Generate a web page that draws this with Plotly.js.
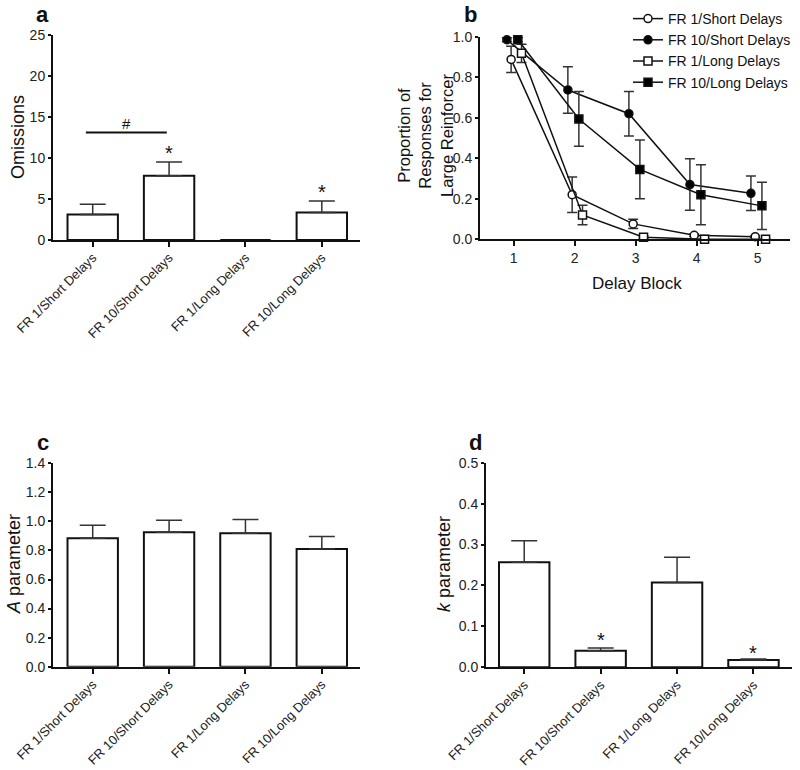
<!DOCTYPE html>
<html>
<head>
<meta charset="utf-8">
<script src="https://cdn.plot.ly/plotly-3.0.1.min.js"></script>
<style>html,body{margin:0;padding:0;background:#fff;}#chart{width:800px;height:770px;}</style>
</head>
<body>
<div id="chart"></div>
<script>
// ---------- data ----------
const groups = ["FR 1/Short Delays", "FR 10/Short Delays", "FR 1/Long Delays", "FR 10/Long Delays"];

// panel a: omissions (mean, SEM)
const omissions    = [3.1, 7.85, 0, 3.35];
const omissionsErr = [1.25, 1.65, null, 1.4];

// panel b: proportion of responses for large reinforcer
const delayBlocks   = [1, 2, 3, 4, 5];
const fr1Short      = [0.888, 0.22, 0.076, 0.02, 0.013];
const fr1ShortErr   = [0.065, 0.088, 0.023, 0.006, 0.004];
const fr10Short     = [0.985, 0.737, 0.62, 0.27, 0.227];
const fr10ShortErr  = [0.01, 0.115, 0.11, 0.127, 0.085];
const fr1Long       = [0.918, 0.12, 0.01, 0.0, 0.0];
const fr1LongErr    = [0.045, 0.048, 0.006, 0.002, 0.002];
const fr10Long      = [0.985, 0.594, 0.345, 0.22, 0.165];
const fr10LongErr   = [0.01, 0.135, 0.145, 0.148, 0.117];

// panel c: A parameter
const aParam    = [0.884, 0.925, 0.918, 0.81];
const aParamErr = [0.089, 0.083, 0.096, 0.087];

// panel d: k parameter
const kParam    = [0.2565, 0.0407, 0.207, 0.018];
const kParamErr = [0.0525, 0.0063, 0.062, 0.002];

// significance markers
const sigA = [{i: 1, y: 10.6, t: "*"}, {i: 3, y: 5.8, t: "*"}];
const sigD = [{i: 1, y: 0.066, t: "*"}, {i: 3, y: 0.034, t: "*"}];

// ---------- styles ----------
const FONT = "Arial, 'Liberation Sans', sans-serif";
const W = 800, H = 770;
const px = v => v / W;
const py = v => 1 - v / H;

function barTrace(vals, errs, xa, ya) {
  const up = errs.map(e => (e === null ? NaN : e));
  const dn = errs.map(e => (e === null ? NaN : 0));
  return {
    type: "bar", x: groups.map((g, i) => i), y: vals,
    xaxis: xa, yaxis: ya, width: 0.66, showlegend: false,
    marker: {color: "#ffffff", line: {color: "#111", width: 2}},
    error_y: {type: "data", symmetric: false, array: up, arrayminus: dn,
              color: "#333", thickness: 1.5, width: 13},
    hoverinfo: "y"
  };
}

const seriesB = [
  {name: "FR 1/Short Delays",  y: fr1Short,  e: fr1ShortErr,  off: -0.04, sym: "circle", fill: "#ffffff"},
  {name: "FR 10/Short Delays", y: fr10Short, e: fr10ShortErr, off: -0.11, sym: "circle", fill: "#000000"},
  {name: "FR 1/Long Delays",   y: fr1Long,   e: fr1LongErr,   off: 0.13,  sym: "square", fill: "#ffffff"},
  {name: "FR 10/Long Delays",  y: fr10Long,  e: fr10LongErr,  off: 0.07,  sym: "square", fill: "#000000"}
];

const traces = [];
traces.push(barTrace(omissions, omissionsErr, "x", "y"));
seriesB.forEach(s => {
  traces.push({
    type: "scatter", mode: "lines+markers", name: s.name,
    x: delayBlocks.map(b => b + s.off), y: s.y,
    xaxis: "x2", yaxis: "y2", cliponaxis: false,
    line: {color: "#111", width: 1.5},
    marker: {symbol: s.sym, size: 8, color: s.fill, line: {color: "#111", width: 1.5}},
    error_y: {type: "data", array: s.e, color: "#333", thickness: 1.5, width: 5}
  });
});
traces.push(barTrace(aParam, aParamErr, "x3", "y3"));
traces.push(barTrace(kParam, kParamErr, "x4", "y4"));

const baseAxis = {
  showline: true, linewidth: 2, linecolor: "#111", mirror: false,
  ticks: "outside", ticklen: 5, tickwidth: 2, tickcolor: "#111",
  showgrid: false, zeroline: false, fixedrange: true, automargin: false,
  tickfont: {family: FONT, size: 14, color: "#222"}
};
function catAxis(domain, anchor) {
  return Object.assign({}, baseAxis, {
    domain: domain, anchor: anchor, range: [-0.52, 3.5],
    tickmode: "array", tickvals: groups.map((g, i) => i), ticktext: groups,
    tickangle: -45, ticklabelstandoff: -2, tickfont: {family: FONT, size: 13, color: "#222"}
  });
}
function valAxis(extra) {
  return Object.assign({}, baseAxis, {ticklen: 3}, extra);
}

const annotations = [];
function ann(text, x, y, opts) {
  annotations.push(Object.assign({text: text, x: x, y: y, xref: "paper", yref: "paper",
    xanchor: "center", yanchor: "middle",
    showarrow: false, font: {family: FONT, size: 18, color: "#111"}}, opts || {}));
}
// panel letters
ann("<b>a</b>", px(42), py(14), {font: {family: FONT, size: 22, color: "#111"}});
ann("<b>b</b>", px(470), py(14), {font: {family: FONT, size: 22, color: "#111"}});
ann("<b>c</b>", px(43), py(442), {font: {family: FONT, size: 22, color: "#111"}});
ann("<b>d</b>", px(475), py(442), {font: {family: FONT, size: 22, color: "#111"}});
// axis titles
ann("Omissions", px(18), py(137), {textangle: -90});
ann("Proportion of<br>Responses for<br>Large Reinforcer", px(425), py(136),
    {textangle: -90, font: {family: FONT, size: 16.5, color: "#111"}});
ann("Delay Block", px(637), py(283), {font: {family: FONT, size: 17, color: "#111"}});
ann("<i>A</i> parameter", px(14), py(564), {textangle: -90});
ann("<i>k</i> parameter", px(444), py(564), {textangle: -90});
// significance
sigA.forEach(s => annotations.push({text: s.t, x: s.i, y: s.y, xref: "x", yref: "y",
  showarrow: false, font: {family: FONT, size: 20, color: "#111"}}));
sigD.forEach(s => annotations.push({text: s.t, x: s.i, y: s.y, xref: "x4", yref: "y4",
  showarrow: false, font: {family: FONT, size: 20, color: "#111"}}));
annotations.push({text: "#", x: 0.44, y: 14.2, xref: "x", yref: "y", showarrow: false,
  font: {family: FONT, size: 15, color: "#111"}});

const layout = {
  width: W, height: H, margin: {l: 0, r: 0, t: 0, b: 0, pad: 0, autoexpand: false},
  paper_bgcolor: "#fff", plot_bgcolor: "rgba(0,0,0,0)",
  font: {family: FONT, color: "#111"},
  xaxis:  catAxis([px(53), px(360)], "y"),
  yaxis:  valAxis({domain: [py(240), py(35)], anchor: "x", range: [0, 25], dtick: 5}),
  xaxis2: Object.assign({}, baseAxis, {domain: [px(480), px(790)], anchor: "y2", range: [0.45, 5.53],
            tickvals: delayBlocks, tickfont: {family: FONT, size: 14, color: "#222"}}),
  yaxis2: valAxis({domain: [py(239.3), py(36.7)], anchor: "x2", range: [0, 1.0], dtick: 0.2, tickformat: ".1f"}),
  xaxis3: catAxis([px(53), px(360)], "y3"),
  yaxis3: valAxis({domain: [py(666.7), py(463.3)], anchor: "x3", range: [0, 1.4], dtick: 0.2, tickformat: ".1f"}),
  xaxis4: Object.assign(catAxis([px(486), px(791.7)], "y4"), {range: [-0.5, 3.5]}),
  yaxis4: valAxis({domain: [py(667.3), py(462.7)], anchor: "x4", range: [0, 0.5], dtick: 0.1, tickformat: ".1f"}),
  showlegend: true,
  legend: {x: px(628), y: py(3), xanchor: "left", yanchor: "top", bgcolor: "rgba(0,0,0,0)",
           font: {family: FONT, size: 14, color: "#111"}, tracegroupgap: 0, itemwidth: 30},
  shapes: [
    {type: "line", xref: "x", yref: "y", x0: -0.09, x1: 0.97, y0: 13.1, y1: 13.1,
     line: {color: "#111", width: 2}}
  ],
  annotations: annotations,
  bargap: 0.3
};

Plotly.newPlot("chart", traces, layout, {displayModeBar: false, staticPlot: true});
</script>
</body>
</html>
